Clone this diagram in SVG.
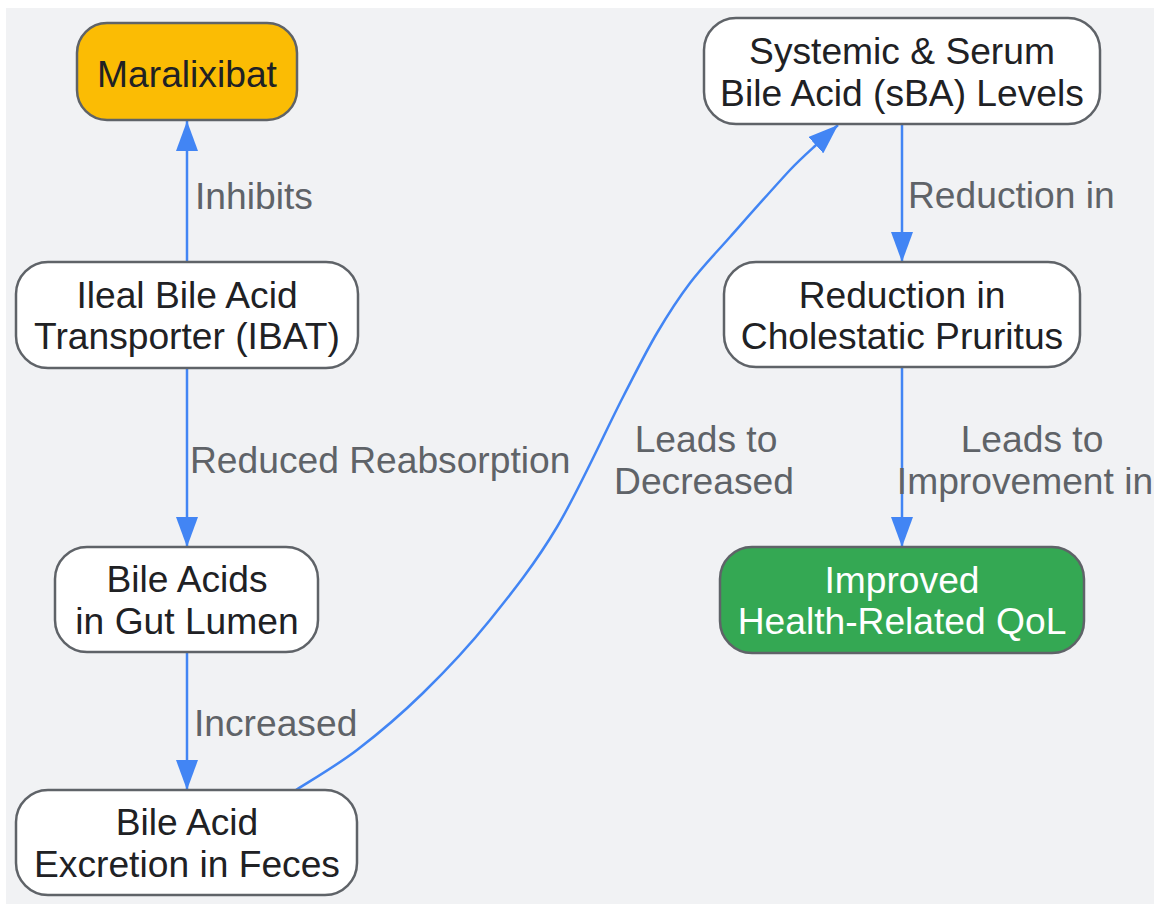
<svg xmlns="http://www.w3.org/2000/svg" width="1154" height="904" viewBox="0 0 1154 904">
<style>
.node rect{stroke:#5f6368;stroke-width:2.5}
.node text{font-family:"Liberation Sans",Arial,sans-serif;font-size:37.2px;fill:#202124;text-anchor:middle}
.edge{fill:none;stroke:#4285f4;stroke-width:2.5}
.lbl{font-family:"Liberation Sans",Arial,sans-serif;font-size:37.2px;fill:#5f6368}
</style>
<defs>
<marker id="arr" markerUnits="userSpaceOnUse" markerWidth="30" markerHeight="22" refX="30" refY="11" orient="auto" viewBox="0 0 30 22">
<path d="M0,0 L30,11 L0,22 z" fill="#4285f4"/>
</marker>
</defs>
<rect x="6" y="8" width="1148" height="896" fill="#f1f2f4"/>
<g id="connectors">
<path class="edge" d="M187,262 L187,121" marker-end="url(#arr)"/>
<path class="edge" d="M187,368 L187,547" marker-end="url(#arr)"/>
<path class="edge" d="M187,652 L187,790" marker-end="url(#arr)"/>
<path class="edge" d="M902,124 L902,262" marker-end="url(#arr)"/>
<path class="edge" d="M902,367 L902,547" marker-end="url(#arr)"/>
<path class="edge" d="M296,790 C306.2,783.3 335.8,766.2 357,750 C378.2,733.8 400.8,714.7 423,693 C445.2,671.3 467.7,647.7 490,620 C512.3,592.3 534.8,564.2 557,527 C579.2,489.8 606.3,429.3 623,397 C639.7,364.7 645.8,352 657,333 C668.2,314 677.8,299 690,283 C702.2,267 713.3,255.8 730,237 C746.7,218.2 775.8,185.2 790,170 C798.5,160.9 808.1,152.3 815,146 L838,125" marker-end="url(#arr)"/>
<text class="lbl" x="195" y="209">Inhibits</text>
<text class="lbl" x="190" y="473">Reduced Reabsorption</text>
<text class="lbl" x="194" y="736">Increased</text>
<text class="lbl" x="706" y="452" text-anchor="middle">Leads to</text>
<text class="lbl" x="704" y="494" text-anchor="middle">Decreased</text>
<text class="lbl" x="908" y="208">Reduction in</text>
<text class="lbl" x="1032" y="452" text-anchor="middle">Leads to</text>
<text class="lbl" x="1025" y="494" text-anchor="middle">Improvement in</text>
</g>
<g id="maralixibat" class="node">
<rect x="77" y="23" width="220" height="97" rx="30" fill="#fbbc04"/>
<text x="187" y="87">Maralixibat</text>
</g>
<g id="ibat" class="node">
<rect x="16" y="262" width="342" height="106" rx="32" fill="#ffffff"/>
<text x="187" y="307.5">Ileal Bile Acid</text>
<text x="187" y="348.5">Transporter (IBAT)</text>
</g>
<g id="gut" class="node">
<rect x="55" y="547" width="263" height="105" rx="32" fill="#ffffff"/>
<text x="187" y="592">Bile Acids</text>
<text x="187" y="633.5">in Gut Lumen</text>
</g>
<g id="excretion" class="node">
<rect x="16" y="790" width="341" height="105" rx="32" fill="#ffffff"/>
<text x="187" y="835">Bile Acid</text>
<text x="187" y="876.5">Excretion in Feces</text>
</g>
<g id="systemic" class="node">
<rect x="704" y="18" width="396" height="106" rx="32" fill="#ffffff"/>
<text x="902" y="64">Systemic &amp; Serum</text>
<text x="902" y="106">Bile Acid (sBA) Levels</text>
</g>
<g id="pruritus" class="node">
<rect x="724" y="262" width="356" height="105" rx="32" fill="#ffffff"/>
<text x="902" y="307.5">Reduction in</text>
<text x="902" y="349">Cholestatic Pruritus</text>
</g>
<g id="qol" class="node">
<rect x="720" y="547" width="364" height="106" rx="32" fill="#34a853"/>
<text x="902" y="592.5" style="fill:#ffffff">Improved</text>
<text x="902" y="634" style="fill:#ffffff">Health-Related QoL</text>
</g>
</svg>
